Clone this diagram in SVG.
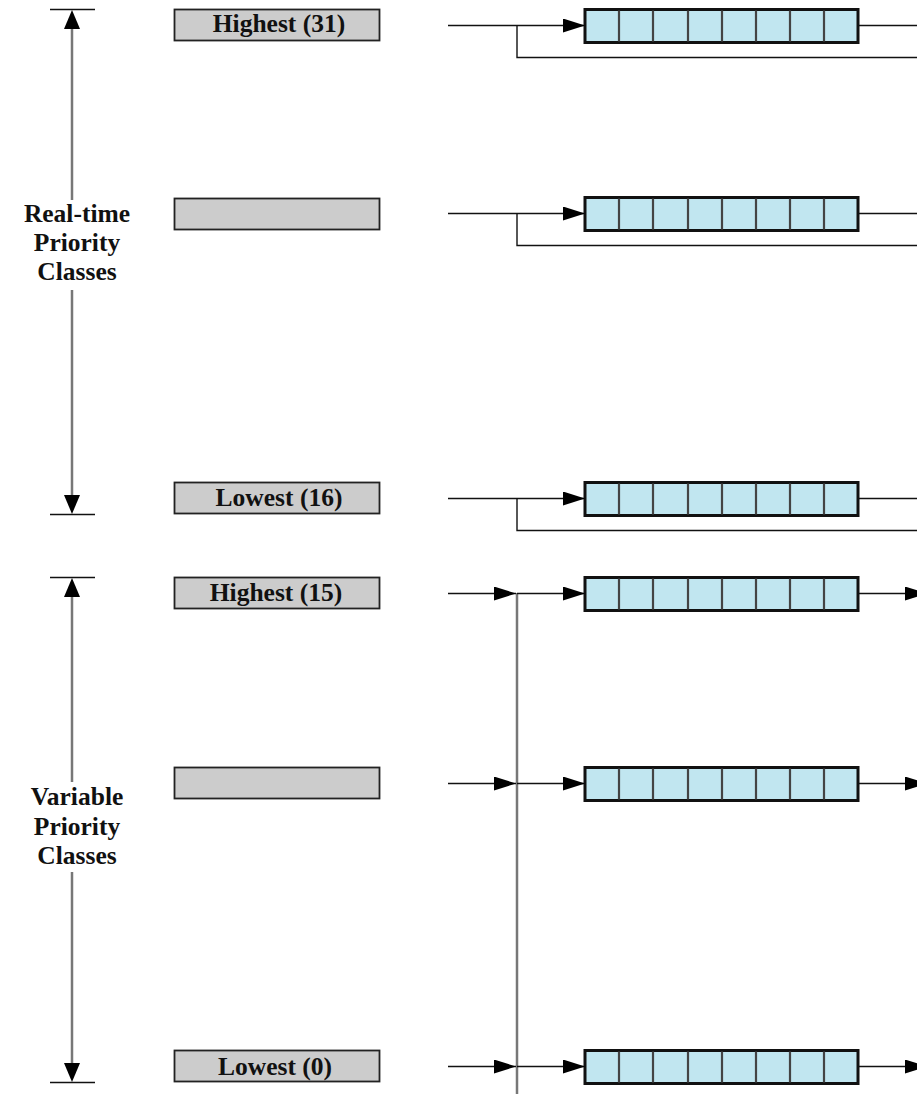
<svg xmlns="http://www.w3.org/2000/svg" width="917" height="1094" viewBox="0 0 917 1094">
<defs>
<style>
.lbl{font-family:"Liberation Serif","Times New Roman",serif;font-weight:bold;font-size:25.5px;fill:#111;text-anchor:middle}
.box{fill:#cccccc;stroke:#222;stroke-width:1.8}
.q{fill:#c1e6f0;stroke:#111;stroke-width:3}
.div{stroke:#444;stroke-width:2.2}
.ln{stroke:#111;stroke-width:1.4;fill:none}
.gl{stroke:#777;stroke-width:2.5;fill:none}
</style>
<marker id="ah" markerUnits="userSpaceOnUse" markerWidth="24" markerHeight="16" refX="22" refY="7" orient="auto">
<path d="M0,0 L22,7 L0,14 Z" fill="#000"/>
</marker>
<g id="queue">
<rect class="q" x="585" y="-16" width="273" height="33"/>
<path class="div" d="M619,-15V16M653,-15V16M688,-15V16M722,-15V16M756,-15V16M790,-15V16M824,-15V16"/>
</g>
</defs>

<g id="realtime-scale">
<line x1="50" y1="9.5" x2="95" y2="9.5" stroke="#111" stroke-width="1.4"/>
<line x1="50" y1="514.5" x2="95" y2="514.5" stroke="#111" stroke-width="1.4"/>
<path class="gl" d="M72,28V200M72,290V496"/>
<path d="M72,10L64,29H80Z" fill="#000"/>
<path d="M72,514L64,495H80Z" fill="#000"/>
<text class="lbl" x="77" y="222">Real-time</text>
<text class="lbl" x="77" y="251">Priority</text>
<text class="lbl" x="77" y="280">Classes</text>
</g>

<g id="variable-scale">
<line x1="50" y1="577.5" x2="95" y2="577.5" stroke="#111" stroke-width="1.4"/>
<line x1="50" y1="1082.5" x2="95" y2="1082.5" stroke="#111" stroke-width="1.4"/>
<path class="gl" d="M72,594V782M72,872V1064"/>
<path d="M72,578L64,597H80Z" fill="#000"/>
<path d="M72,1082L64,1063H80Z" fill="#000"/>
<text class="lbl" x="77" y="805">Variable</text>
<text class="lbl" x="77" y="835">Priority</text>
<text class="lbl" x="77" y="864">Classes</text>
</g>

<g id="level-31">
<rect class="box" x="174.5" y="9.5" width="205" height="31"/>
<text class="lbl" x="279" y="32">Highest (31)</text>
</g>
<g id="level-rt-mid">
<rect class="box" x="174.5" y="198.5" width="205" height="31"/>
</g>
<g id="level-16">
<rect class="box" x="174.5" y="482.5" width="205" height="31"/>
<text class="lbl" x="279" y="506">Lowest (16)</text>
</g>
<g id="level-15">
<rect class="box" x="174.5" y="577.5" width="205" height="31"/>
<text class="lbl" x="276" y="601">Highest (15)</text>
</g>
<g id="level-var-mid">
<rect class="box" x="174.5" y="767.5" width="205" height="31"/>
</g>
<g id="level-0">
<rect class="box" x="174.5" y="1050.5" width="205" height="31"/>
<text class="lbl" x="275" y="1075">Lowest (0)</text>
</g>

<g id="queue-31"><use href="#queue" y="25.5"/></g>
<g id="queue-rt-mid"><use href="#queue" y="213.5"/></g>
<g id="queue-16"><use href="#queue" y="498.5"/></g>
<g id="queue-15"><use href="#queue" y="593.5"/></g>
<g id="queue-var-mid"><use href="#queue" y="783.5"/></g>
<g id="queue-0"><use href="#queue" y="1066.5"/></g>

<g id="connectors">
<path class="ln" d="M448,25.5H585" marker-end="url(#ah)"/>
<path class="ln" d="M517,25.5V57.5H917M858,25.5H917"/>
<path class="ln" d="M448,213.5H585" marker-end="url(#ah)"/>
<path class="ln" d="M517,213.5V245.5H917M858,213.5H917"/>
<path class="ln" d="M448,498.5H585" marker-end="url(#ah)"/>
<path class="ln" d="M517,498.5V530.5H917M858,498.5H917"/>
<path class="gl" d="M517,593V1094"/>
<path class="ln" d="M448,593.5H516" marker-end="url(#ah)"/>
<path class="ln" d="M517,593.5H585" marker-end="url(#ah)"/>
<path class="ln" d="M858,593.5H927" marker-end="url(#ah)"/>
<path class="ln" d="M448,783.5H516" marker-end="url(#ah)"/>
<path class="ln" d="M517,783.5H585" marker-end="url(#ah)"/>
<path class="ln" d="M858,783.5H927" marker-end="url(#ah)"/>
<path class="ln" d="M448,1066.5H516" marker-end="url(#ah)"/>
<path class="ln" d="M517,1066.5H585" marker-end="url(#ah)"/>
<path class="ln" d="M858,1066.5H927" marker-end="url(#ah)"/>
</g>
</svg>
